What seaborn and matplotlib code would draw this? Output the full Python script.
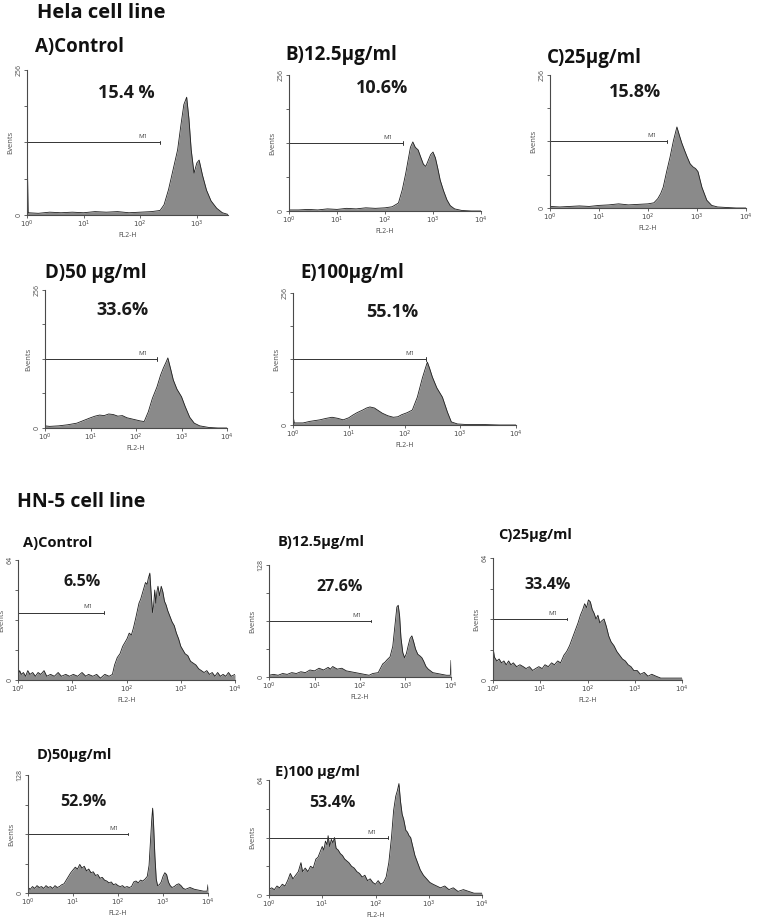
import numpy as np
import matplotlib
matplotlib.use("Agg")
import matplotlib.pyplot as plt
from matplotlib.ticker import NullLocator
import seaborn as sns

sns.set_theme(style="white")
plt.rcParams["font.family"] = ["Open Sans", "DejaVu Sans"]

W, H = 761, 922
FILL = "#8a8a8a"
EDGE = "#1e1e1e"
AXC = "#4a4a4a"

# ---- data: log10(FL2-H) positions and event counts ----
hela_a_log = [0.0, 0.02, 0.2, 0.4, 0.6, 0.8, 1.0, 1.2, 1.4, 1.6, 1.8, 2.0, 2.2, 2.35, 2.42,
              2.5, 2.58, 2.66, 2.72, 2.77, 2.82, 2.86, 2.9, 2.95, 3.0, 3.04, 3.1, 3.17, 3.25,
              3.35, 3.45, 3.55]
hela_a_cnt = [128, 4, 3, 5, 4, 5, 4, 6, 5, 6, 4, 5, 6, 8, 18,
              45, 80, 115, 160, 195, 208, 170, 115, 74, 92, 97, 70, 44, 25,
              12, 4, 1]

hela_b_log = [0.0, 0.2, 0.4, 0.6, 0.8, 1.0, 1.2, 1.4, 1.6, 1.8, 2.0, 2.15, 2.28, 2.36, 2.43,
              2.48, 2.53, 2.58, 2.63, 2.69, 2.75, 2.8, 2.85, 2.9, 2.95, 3.0, 3.05, 3.1, 3.15,
              3.22, 3.29, 3.36, 3.45, 3.6, 3.8, 4.0]
hela_b_cnt = [2, 2, 3, 2, 4, 3, 5, 4, 6, 5, 6, 8, 15, 40, 70,
              95, 120, 130, 120, 115, 100, 88, 84, 95, 106, 111, 100, 80, 58,
              38, 21, 10, 4, 1, 0, 0]

hela_c_log = [0.0, 0.2, 0.4, 0.6, 0.8, 1.0, 1.2, 1.4, 1.6, 1.8, 2.0, 2.12, 2.2, 2.26, 2.31,
              2.38, 2.45, 2.52, 2.59, 2.64, 2.69, 2.75, 2.8, 2.86, 2.92, 2.97, 3.02, 3.1, 3.2,
              3.3, 3.42, 3.6, 3.8, 4.0]
hela_c_cnt = [3, 2, 3, 4, 3, 5, 6, 8, 6, 7, 8, 10, 18, 28, 40,
              70, 98, 130, 156, 140, 125, 110, 98, 85, 79, 76, 70, 40, 15,
              5, 2, 1, 0, 0]

hela_d_log = [0.0, 0.1, 0.3, 0.5, 0.7, 0.85, 1.0, 1.1, 1.2, 1.3, 1.4, 1.5, 1.6, 1.7, 1.8,
              1.9, 2.0, 2.1, 2.18, 2.27, 2.36, 2.46, 2.54, 2.6, 2.66, 2.7, 2.76, 2.82, 2.9,
              3.0, 3.08, 3.18, 3.28, 3.4, 3.6, 3.8, 4.0]
hela_d_cnt = [4, 3, 4, 6, 9, 14, 19, 22, 24, 23, 26, 25, 22, 23, 19,
              17, 15, 13, 12, 30, 55, 76, 98, 111, 122, 130, 110, 89, 72,
              58, 40, 20, 9, 4, 1, 0, 0]

hela_e_log = [0.0, 0.02, 0.18, 0.3, 0.48, 0.6, 0.7, 0.8, 0.9, 1.0, 1.07, 1.15, 1.25, 1.32,
              1.38, 1.46, 1.53, 1.6, 1.7, 1.8, 1.88, 1.95, 2.05, 2.14, 2.23, 2.32, 2.38, 2.41,
              2.45, 2.5, 2.58, 2.68, 2.77, 2.84, 2.95, 3.1, 3.4, 3.7, 4.0]
hela_e_cnt = [20, 4, 4, 7, 10, 13, 15, 13, 10, 14, 19, 24, 29, 33,
              35, 33, 28, 23, 18, 15, 16, 20, 24, 29, 54, 91, 112, 122,
              110, 93, 72, 54, 25, 6, 2, 1, 1, 0, 0]

hn_a_log = [0.0, 0.03, 0.06, 0.1, 0.14, 0.18, 0.22, 0.27, 0.32, 0.37, 0.42, 0.48, 0.53, 0.6,
            0.67, 0.74, 0.8, 0.88, 0.95, 1.02, 1.1, 1.18, 1.25, 1.3, 1.38, 1.45, 1.52, 1.6,
            1.68, 1.74, 1.78, 1.83, 1.88, 1.93, 1.97, 2.01, 2.05, 2.09, 2.13, 2.17, 2.2, 2.23,
            2.26, 2.29, 2.32, 2.35, 2.38, 2.4, 2.43, 2.45, 2.48, 2.5, 2.52, 2.54, 2.56, 2.58,
            2.61, 2.64, 2.67, 2.7, 2.73, 2.76, 2.8, 2.84, 2.88, 2.92, 2.96, 3.0, 3.04, 3.08,
            3.13, 3.18, 3.23, 3.28, 3.33, 3.38, 3.43, 3.48, 3.53, 3.58, 3.63, 3.68, 3.73, 3.78,
            3.83, 3.88, 3.93, 4.0]
hn_a_cnt = [2, 5, 3, 4, 2, 5, 3, 4, 2, 4, 3, 5, 2, 3,
            2, 4, 2, 3, 2, 3, 2, 4, 2, 3, 2, 3, 1, 3,
            2, 3, 8, 12, 14, 18, 20, 22, 25, 24, 28, 33, 37, 41,
            43, 46, 49, 52, 51, 54, 57, 48, 36, 40, 48, 41, 47, 50,
            45, 50, 47, 42, 40, 37, 34, 31, 29, 25, 22, 18, 16, 14,
            13, 10, 9, 8, 6, 5, 4, 5, 3, 4, 2, 4, 2, 3,
            2, 4, 2, 3]

hn_b_log = [0.0, 0.1, 0.2, 0.3, 0.4, 0.5, 0.6, 0.7, 0.8, 0.9, 1.0, 1.1, 1.2, 1.3, 1.35,
            1.4, 1.5, 1.6, 1.7, 1.8, 1.9, 2.0, 2.1, 2.2, 2.28, 2.4, 2.45, 2.5, 2.55, 2.6,
            2.66, 2.72, 2.77, 2.81, 2.84, 2.87, 2.9, 2.94, 2.98, 3.02, 3.06, 3.1, 3.14, 3.18,
            3.22, 3.27, 3.32, 3.36, 3.4, 3.45, 3.5, 3.55, 3.6, 3.7, 3.8, 3.9, 3.985, 4.0]
hn_b_cnt = [2, 3, 2, 4, 3, 5, 4, 6, 5, 8, 7, 10, 8, 11, 9,
            12, 9, 10, 7, 6, 5, 4, 3, 2, 4, 5, 10, 15, 17, 20,
            23, 35, 60, 80, 82, 70, 45, 28, 22, 27, 36, 44, 47, 40,
            32, 26, 24, 22, 18, 12, 9, 7, 5, 4, 3, 2, 2, 19]

hn_c_log = [0.0, 0.03, 0.08, 0.13, 0.18, 0.23, 0.28, 0.33, 0.38, 0.43, 0.5, 0.57, 0.64,
            0.7, 0.77, 0.84, 0.9, 0.97, 1.04, 1.1, 1.17, 1.24, 1.3, 1.37, 1.43, 1.5, 1.56,
            1.62, 1.68, 1.74, 1.8, 1.85, 1.9, 1.94, 1.98, 2.02, 2.06, 2.1, 2.14, 2.18, 2.22,
            2.26, 2.3, 2.35, 2.4, 2.45, 2.5, 2.56, 2.62, 2.68, 2.74, 2.8, 2.86, 2.92, 2.98,
            3.05, 3.12, 3.2, 3.28, 3.36, 3.45, 3.55, 3.7, 3.85, 4.0]
hn_c_cnt = [17, 12, 10, 11, 9, 10, 8, 10, 8, 9, 7, 8, 7,
            6, 7, 5, 6, 7, 6, 8, 7, 9, 8, 10, 9, 13, 15,
            18, 22, 26, 30, 34, 37, 40, 38, 42, 41, 37, 35, 32, 34,
            30, 31, 32, 28, 23, 20, 18, 15, 13, 11, 10, 8, 7, 5,
            5, 3, 4, 2, 3, 2, 1, 1, 1, 1]

hn_d_log = [0.0, 0.05, 0.1, 0.15, 0.2, 0.25, 0.3, 0.35, 0.4, 0.45, 0.5, 0.55, 0.6, 0.65,
            0.7, 0.75, 0.8, 0.85, 0.9, 0.95, 1.0, 1.05, 1.1, 1.15, 1.2, 1.25, 1.3, 1.35,
            1.4, 1.45, 1.5, 1.55, 1.6, 1.65, 1.7, 1.75, 1.8, 1.85, 1.9, 1.95, 2.0, 2.05,
            2.1, 2.15, 2.2, 2.25, 2.3, 2.35, 2.4, 2.45, 2.5, 2.55, 2.6, 2.65, 2.69, 2.72,
            2.75, 2.77, 2.79, 2.82, 2.85, 2.88, 2.92, 2.96, 3.0, 3.04, 3.08, 3.12, 3.16, 3.2,
            3.25, 3.3, 3.35, 3.4, 3.45, 3.5, 3.6, 3.7, 3.8, 3.9, 3.98, 4.0]
hn_d_cnt = [6, 4, 7, 5, 8, 6, 7, 5, 8, 6, 7, 5, 8, 6,
            7, 9, 10, 14, 18, 22, 25, 28, 26, 31, 27, 29, 24, 26,
            22, 23, 19, 20, 16, 17, 14, 13, 11, 12, 9, 10, 8, 7,
            8, 6, 7, 6, 7, 12, 13, 11, 14, 13, 15, 18, 30, 55,
            80, 92, 75, 40, 15, 8, 9, 12, 18, 22, 20, 12, 8, 6,
            7, 9, 10, 8, 5, 4, 6, 4, 3, 2, 2, 9]

hn_e_log = [0.0, 0.05, 0.1, 0.15, 0.2, 0.25, 0.3, 0.35, 0.4, 0.45, 0.5, 0.55, 0.6, 0.63,
            0.68, 0.73, 0.78, 0.83, 0.88, 0.92, 0.96, 1.0, 1.03, 1.06, 1.09, 1.11, 1.14, 1.17,
            1.2, 1.23, 1.26, 1.3, 1.34, 1.38, 1.42, 1.46, 1.5, 1.55, 1.6, 1.65, 1.7, 1.75,
            1.8, 1.85, 1.9, 1.95, 2.0, 2.05, 2.1, 2.15, 2.2, 2.25, 2.3, 2.34, 2.38, 2.41,
            2.44, 2.47, 2.5, 2.53, 2.57, 2.6, 2.63, 2.66, 2.7, 2.74, 2.79, 2.84, 2.9, 2.96,
            3.02, 3.08, 3.15, 3.22, 3.3, 3.38, 3.46, 3.55, 3.65, 3.75, 3.85, 3.95, 4.0]
hn_e_cnt = [3, 4, 3, 5, 4, 6, 5, 8, 12, 9, 11, 13, 18, 13,
            15, 13, 16, 15, 20, 21, 24, 27, 25, 30, 28, 33, 27, 31,
            29, 32, 26, 25, 23, 22, 20, 19, 18, 16, 15, 13, 12, 10,
            11, 8, 9, 7, 6, 8, 6, 7, 10, 18, 32, 47, 55, 58,
            62, 52, 45, 42, 36, 35, 33, 32, 27, 22, 18, 14, 11, 9,
            7, 6, 5, 4, 5, 3, 4, 2, 3, 2, 1, 1, 1]

# panel labels / gate percentages
hela_titles = ["A)Control", "B)12.5µg/ml", "C)25µg/ml", "D)50 µg/ml", "E)100µg/ml"]
hela_pcts = ["15.4 %", "10.6%", "15.8%", "33.6%", "55.1%"]
hn_titles = ["A)Control", "B)12.5µg/ml", "C)25µg/ml", "D)50µg/ml", "E)100 µg/ml"]
hn_pcts = ["6.5%", "27.6%", "33.4%", "52.9%", "53.4%"]

# layout in pixels: (left, right, top, bottom), x range in decades, y max, M1 level, M1 end
hela_layout = [
    ((27, 228, 70, 215), 3.55, 256, 128, 2.35),
    ((289, 481, 75, 211), 4.0, 256, 128, 2.37),
    ((550, 746, 75, 208), 4.0, 256, 128, 2.39),
    ((45, 227, 290, 428), 4.0, 256, 128, 2.46),
    ((293, 516, 293, 425), 4.0, 256, 128, 2.39),
]
hn_layout = [
    ((18, 235, 560, 680), 4.0, 64, 36, 1.59),
    ((269, 451, 565, 677), 4.0, 128, 64, 2.24),
    ((493, 682, 558, 680), 4.0, 64, 32, 1.57),
    ((28, 208, 775, 893), 4.0, 128, 64, 2.22),
    ((269, 482, 780, 895), 4.0, 64, 32, 2.23),
]
hela_title_pos = [(35, 47), (285, 55), (547, 58), (45, 273), (300, 273)]
hela_pct_pos = [(126, 93), (382, 88), (635, 92), (122, 310), (392, 312)]
hn_title_pos = [(23, 543), (278, 542), (498, 535), (37, 755), (275, 772)]
hn_pct_pos = [(82, 582), (340, 587), (548, 585), (83, 802), (332, 803)]


def px_axes(fig, box):
    left, right, top, bottom = box
    return fig.add_axes([left / W, 1 - bottom / H, (right - left) / W, (bottom - top) / H])


def ftext(fig, x, y, s, **kw):
    fig.text(x / W, 1 - y / H, s, **kw)


def draw_panel(ax, logs, counts, xmax, ymax, m1_y, m1_end):
    x = 10.0 ** np.asarray(logs)
    ax.set_xscale("log")
    ax.fill_between(x, counts, color=FILL, lw=0)
    sns.lineplot(x=x, y=counts, ax=ax, color=EDGE, linewidth=0.6)

    # M1 gate marker
    xe = 10 ** m1_end
    ax.plot([1, xe], [m1_y, m1_y], color="#333333", lw=0.7)
    ax.plot([xe, xe], [m1_y - ymax * 0.012, m1_y + ymax * 0.012], color="#333333", lw=0.7)
    ax.text(10 ** (m1_end - 0.3), m1_y + ymax * 0.025, "M1", fontsize=4.5, color="#444444",
            ha="center", va="bottom")

    ax.set_xticks([1, 10, 100, 1000, 10000])
    ax.set_xticklabels([r"$10^{0}$", r"$10^{1}$", r"$10^{2}$", r"$10^{3}$", r"$10^{4}$"])
    ax.xaxis.set_minor_locator(NullLocator())
    ax.set_yticks([0, ymax / 4, ymax / 2, 3 * ymax / 4, ymax])
    ax.set_yticklabels(["0", "", "", "", str(ymax)])
    # limits after ticks so set_xticks does not widen the view
    ax.set_xlim(1, 10 ** xmax)
    ax.set_ylim(0, ymax)
    ax.tick_params(axis="both", which="major", length=2, width=0.6, pad=1,
                   labelsize=5, colors=AXC, left=True, bottom=True)
    ax.tick_params(axis="y", labelrotation=90)
    for lab in ax.get_yticklabels():
        lab.set_va("center")
    ax.set_xlabel("FL2-H", fontsize=5, color=AXC, labelpad=1)
    ax.set_ylabel("Events", fontsize=5.5, color=AXC, labelpad=1)
    for side in ("top", "right"):
        ax.spines[side].set_visible(False)
    for side in ("left", "bottom"):
        ax.spines[side].set_color(AXC)
        ax.spines[side].set_linewidth(0.8)
    ax.set_facecolor("white")


fig = plt.figure(figsize=(W / 100, H / 100), dpi=100)
fig.patch.set_facecolor("white")

hela_data = [(hela_a_log, hela_a_cnt), (hela_b_log, hela_b_cnt), (hela_c_log, hela_c_cnt),
             (hela_d_log, hela_d_cnt), (hela_e_log, hela_e_cnt)]
hn_data = [(hn_a_log, hn_a_cnt), (hn_b_log, hn_b_cnt), (hn_c_log, hn_c_cnt),
           (hn_d_log, hn_d_cnt), (hn_e_log, hn_e_cnt)]

for (logs, cnt), (box, xmax, ymax, m1y, m1e), tp, pp, title, pct in zip(
        hela_data, hela_layout, hela_title_pos, hela_pct_pos, hela_titles, hela_pcts):
    ax = px_axes(fig, box)
    draw_panel(ax, logs, cnt, xmax, ymax, m1y, m1e)
    ftext(fig, tp[0], tp[1], title, fontsize=13.5, fontweight="bold", color="#111111",
          ha="left", va="center")
    ftext(fig, pp[0], pp[1], pct, fontsize=13, fontweight="bold", color="#1a1a1a",
          ha="center", va="center")

for (logs, cnt), (box, xmax, ymax, m1y, m1e), tp, pp, title, pct in zip(
        hn_data, hn_layout, hn_title_pos, hn_pct_pos, hn_titles, hn_pcts):
    ax = px_axes(fig, box)
    draw_panel(ax, logs, cnt, xmax, ymax, m1y, m1e)
    ftext(fig, tp[0], tp[1], title, fontsize=10.5, fontweight="bold", color="#111111",
          ha="left", va="center")
    ftext(fig, pp[0], pp[1], pct, fontsize=11.5, fontweight="bold", color="#1a1a1a",
          ha="center", va="center")

ftext(fig, 37, 13, "Hela cell line", fontsize=14.5, fontweight="bold", color="#111111",
      ha="left", va="center")
ftext(fig, 17, 502, "HN-5 cell line", fontsize=14, fontweight="bold", color="#111111",
      ha="left", va="center")

fig.savefig("out.png", dpi=100, facecolor="white")
